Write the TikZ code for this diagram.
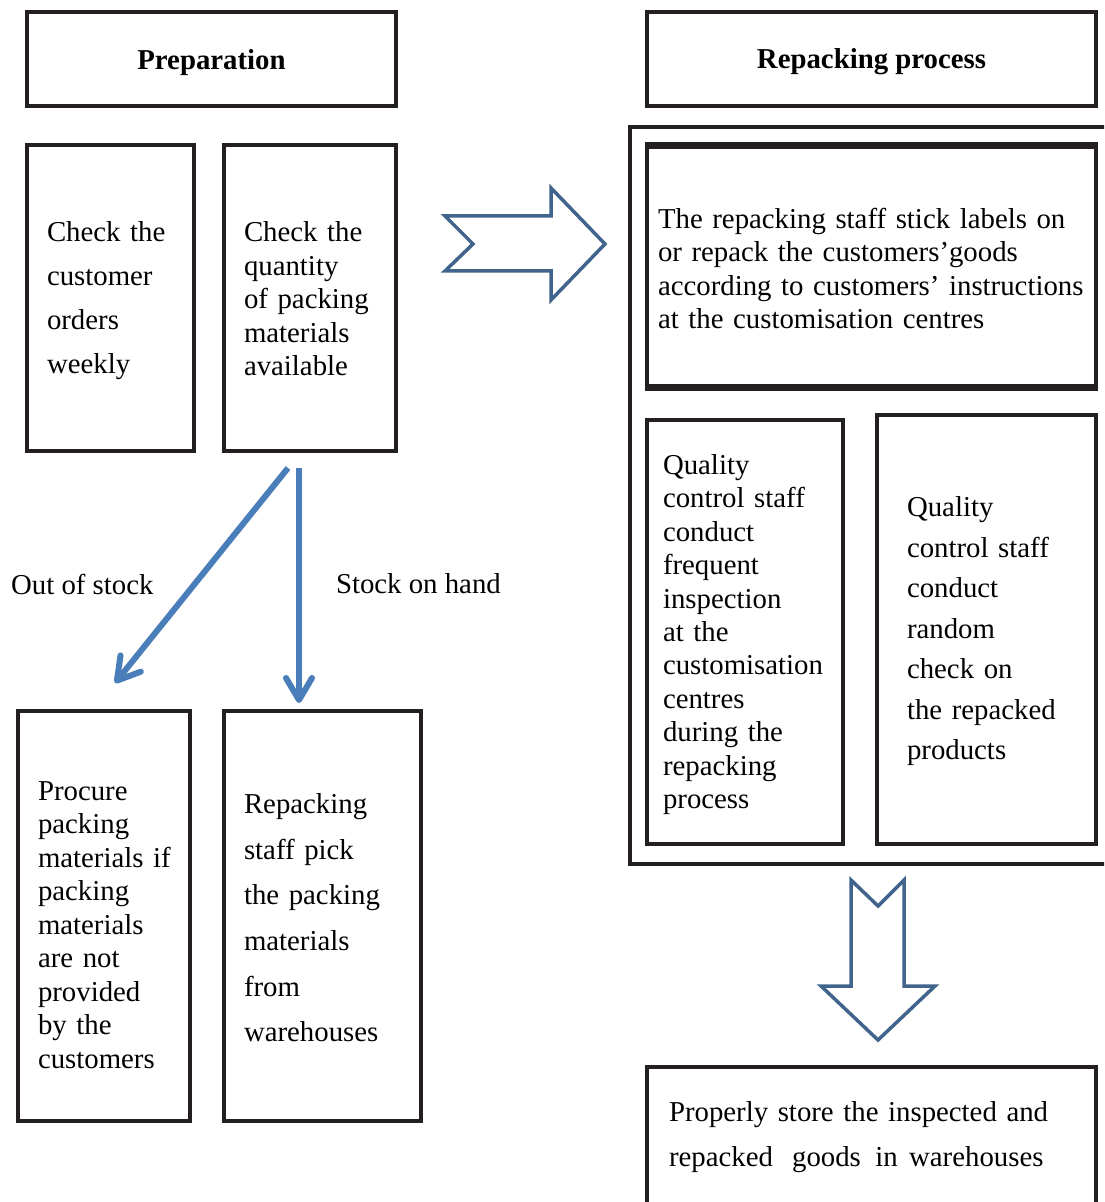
\documentclass[tikz,border=0pt]{standalone}
\usepackage{fontspec}
\setmainfont{Liberation Serif}
\usetikzlibrary{arrows.meta}
\definecolor{boxline}{RGB}{35,31,32}
\definecolor{flowblue}{RGB}{74,126,187}
\definecolor{bigarrow}{RGB}{65,100,140}
\hyphenpenalty=10000
\exhyphenpenalty=10000
\tikzset{
  box/.style={draw=boxline, line width=2pt, rectangle, align=left, inner ysep=0pt},
  lead/.style={font=\fontsize{14.4pt}{#1}\selectfont},
  title/.style={draw=boxline, line width=2pt, font=\fontsize{14.4pt}{17pt}\selectfont\bfseries},
  flow/.style={draw=flowblue, line width=3pt, -{Straight Barb[length=11pt,width=13pt,round]}},
  lbl/.style={inner sep=0pt, font=\fontsize{14.4pt}{17pt}\selectfont},
  blockarrow/.style={draw=bigarrow, line width=1.75pt, line join=miter},
}
\begin{document}
\begin{tikzpicture}[x=0.5pt,y=-0.5pt]
  \useasboundingbox (0,0) rectangle (1104,1202);
  \clip (0,0) rectangle (1104,1202);
  \fill[white] (0,0) rectangle (1104,1202);

  \node[title, minimum width=184.5pt, minimum height=47pt, text height=13.8pt] (prep) at (211.5,59) {Preparation};
  \node[title, minimum width=224.5pt, minimum height=47pt, text height=12.8pt] (reptitle) at (871.5,59) {Repacking process};

  \node[box, lead=22pt, minimum width=83.5pt, minimum height=153pt, inner xsep=10pt, text width=63.5pt, text height=12.6pt]
    (orders) at (110.5,298) {Check the\\customer\\orders\\weekly};
  \node[box, lead=16.75pt, minimum width=86pt, minimum height=153pt, inner xsep=10pt, text width=66pt, text height=11pt]
    (qty) at (310,298) {Check the\\quantity\\of packing\\materials\\available};
  \node[box, lead=16.75pt, minimum width=86pt, minimum height=205pt, inner xsep=10pt, text width=66pt, text height=18.6pt]
    (procure) at (104,916) {Procure\\packing\\materials~if\\packing\\materials\\are not\\provided\\by the\\customers};
  \node[box, lead=22.8pt, minimum width=98.5pt, minimum height=205pt, inner xsep=10pt, text width=78.5pt, text height=11.8pt]
    (pick) at (322.5,916) {Repacking\\staff pick\\the packing\\materials\\from\\warehouses};

  \draw[boxline, line width=2pt] (630,127) rectangle (1130,864);
  \node[box, lead=16.67pt, minimum width=224.5pt, minimum height=122.5pt, inner xsep=5.5pt, text width=213.5pt, text height=12pt]
    (stick) at (871.5,266.5) {The repacking staff stick labels on\\or repack the customers’goods\\according~to~customers’~instructions\\at the customisation centres};
  \draw[boxline, line width=3.5pt] ([yshift=-1.75pt]stick.north west) -- ([yshift=-1.75pt]stick.north east);
  \draw[boxline, line width=3.5pt] ([yshift=1.75pt]stick.south west) -- ([yshift=1.75pt]stick.south east);
  \node[box, lead=16.7pt, minimum width=98pt, minimum height=212pt, inner xsep=8pt, text width=82pt, text height=12.6pt]
    (inspect) at (745,632) {Quality\\control staff\\conduct\\frequent\\inspection\\at the\\customisation\\centres\\during the\\repacking\\process};
  \node[box, lead=20.25pt, minimum width=109.5pt, minimum height=214.5pt, inner xsep=15pt, text width=79.5pt, text height=11.8pt]
    (random) at (986.5,629.5) {Quality\\control staff\\conduct\\random\\check on\\the repacked\\products};

  \node[box, lead=22.5pt, anchor=north, minimum width=224.5pt, inner xsep=11pt, inner ysep=10pt, text width=202.5pt, text height=17pt, text depth=80pt]
    (store) at (871.5,1065) {Properly store the inspected and\\repacked\hspace{4.8pt} goods\hspace{2.4pt} in\hspace{0.9pt} warehouses};

  \draw[flow] ([xshift=-11pt,yshift=-7.5pt]qty.south) -- ([xshift=5.5pt,yshift=13pt]procure.north)
    node[lbl, midway, anchor=east, xshift=-22.5pt, yshift=-4.5pt] (outstock) {Out of stock};
  \draw[flow] ([xshift=-5.5pt,yshift=-7.5pt]qty.south) -- ([xshift=-11.75pt,yshift=3pt]pick.north)
    node[lbl, midway, anchor=west, xshift=17pt, yshift=1pt] (onhand) {Stock on hand};

  \draw[blockarrow] (445,216) -- (551,216) -- (551,188) -- (605,244) -- (551,300)
    -- (551,271) -- (445,271) -- (473,244) -- cycle;
  \draw[blockarrow] (851,880) -- (878,906) -- (904,880) -- (904,986) -- (935,986)
    -- (878,1040) -- (821,986) -- (851,986) -- cycle;
\end{tikzpicture}
\end{document}
